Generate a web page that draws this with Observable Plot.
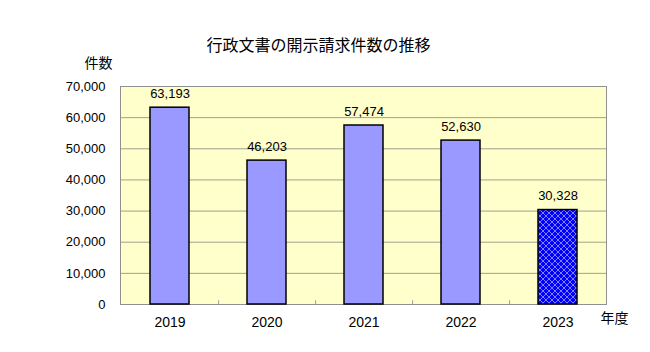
<!DOCTYPE html>
<html><head><meta charset="utf-8">
<script src="https://cdn.jsdelivr.net/npm/d3@7"></script>
<script src="https://cdn.jsdelivr.net/npm/@observablehq/plot@0.6"></script>
<style>
html,body{margin:0;padding:0;background:#fff;}
#chart{position:relative;width:650px;height:352px;}
svg{font-family:"Liberation Sans","Noto Sans CJK JP",sans-serif;}
</style></head>
<body><div id="chart"></div>
<script>
const years = ["2019","2020","2021","2022","2023"];
const counts = [63193, 46203, 57474, 52630, 30328];
const yTicks = [0,10000,20000,30000,40000,50000,60000,70000];
const title = "行政文書の開示請求件数の推移";
const yLabel = "件数";
const xLabel = "年度";

const data = years.map((y,i)=>({year:y, value:counts[i], hatch:i===years.length-1}));
const fmt = d3.format(",");
const jp = "'Noto Sans CJK JP','Liberation Sans',sans-serif";

const plot = Plot.plot({
  width:650, height:352,
  marginLeft:120, marginRight:44, marginTop:86, marginBottom:48,
  style:{background:"transparent", fontSize:"13px", fontFamily:"'Liberation Sans','Noto Sans CJK JP',sans-serif"},
  x:{domain:years, paddingInner:0.6, paddingOuter:0.3, label:null, tickSize:0, tickPadding:13},
  y:{domain:[0,70000], ticks:yTicks, tickFormat:fmt, label:null, tickSize:0, tickPadding:15},
  marks:[
    Plot.frame({fill:"#ffffcc", stroke:"none"}),
    Plot.gridY(yTicks, {stroke:"#a0a08c", strokeOpacity:1}),
    Plot.ruleX(years.slice(0,-1), {y1:0, y2:1200, dx:48.6, stroke:"#a0a0a0"}),
    Plot.frame({stroke:"#909090", fill:"none"}),
    Plot.ruleX([0], {frameAnchor:"left", stroke:"#808080"}),
    Plot.axisX({tickSize:0, tickPadding:13, fontSize:14, label:null}),
    Plot.barY(data.filter(d=>!d.hatch), {x:"year", y:"value", fill:"#9999ff", stroke:"#000", strokeWidth:1.5}),
    Plot.barY(data.filter(d=>d.hatch), {x:"year", y:"value", fill:"url(#hatch2023)", stroke:"#000", strokeWidth:1.5}),
    Plot.text(data, {x:"year", y:"value", text:d=>fmt(d.value), dy:-14, fontSize:13, fill:"#000"}),
    Plot.text([title], {frameAnchor:"top", dx:-45, dy:-47, fontSize:16, fontFamily:jp, fill:"#000"}),
    Plot.text([yLabel], {frameAnchor:"top-left", textAnchor:"middle", dx:-22, dy:-28, fontSize:14, fontFamily:jp, fill:"#000"}),
    Plot.text([xLabel], {frameAnchor:"bottom-right", textAnchor:"middle", lineAnchor:"middle", dx:8, dy:14, fontSize:14, fontFamily:jp, fill:"#000"})
  ]
});

const ns = "http://www.w3.org/2000/svg";
const defs = document.createElementNS(ns,"defs");
defs.innerHTML = `<pattern id="hatch2023" patternUnits="userSpaceOnUse" width="6" height="6">
  <rect width="6" height="6" fill="#0000ff"/>
  <path d="M0,0 L6,6 M6,0 L0,6" stroke="#7f7fff" stroke-width="1"/>
</pattern>`;
plot.insertBefore(defs, plot.firstChild);
document.getElementById("chart").appendChild(plot);
</script>
</body></html>
